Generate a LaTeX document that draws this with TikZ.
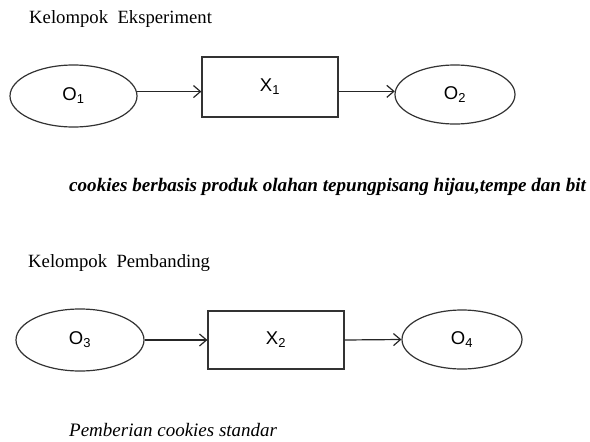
\documentclass[tikz,border=0pt]{standalone}
\usepackage{fontspec}
\setmainfont{Liberation Serif}
\newfontfamily\arialfont{Liberation Sans}
\usetikzlibrary{shapes.geometric}
\usetikzlibrary{arrows.meta}

\tikzset{
  obsnode/.style={ellipse, draw=black!80, line width=1.2pt, inner sep=0pt,
    font=\arialfont\fontsize{18.5}{22}\selectfont},
  treatbox/.style={rectangle, draw=black!80, line width=1.2pt, inner sep=0pt,
    minimum width=136pt, font=\arialfont\fontsize{18.5}{22}\selectfont},
  grouptitle/.style={anchor=west, inner sep=0pt, font=\fontsize{18.7}{22}\selectfont},
  arr/.style={draw=black!85, line width=1.2pt, -{Straight Barb[length=7pt,width=12pt]}}
}

\begin{document}
\begin{tikzpicture}[x=1pt, y=-1pt]
  \useasboundingbox (0,0) rectangle (590,442);

  % Experiment group
  \node[grouptitle] (title1) at (29,19) {Kelompok\ \ Eksperiment};
  \node[obsnode, minimum width=127pt, minimum height=62pt] (O1) at (73.5,96) {O\textsubscript{1}};
  \node[treatbox, minimum height=60pt] (X1) at (270,87) {\raisebox{4pt}{X\textsubscript{1}}};
  \node[obsnode, minimum width=120pt, minimum height=59pt] (O2) at (455,94.5) {O\textsubscript{2}};
  \draw[arr] (O1.4) -- (O1.4 -| X1.west);
  \draw[arr] (X1.east |- O2.177) -- (O2.177);
  \node[grouptitle, font=\fontsize{19.1}{22}\selectfont\bfseries\itshape] (note1) at (69,187)
    {cookies berbasis produk olahan tepungpisang hijau,tempe dan bit};

  % Comparison group
  \node[grouptitle] (title2) at (28,263) {Kelompok\ \ Pembanding};
  \node[obsnode, minimum width=128pt, minimum height=62pt] (O3) at (80,340) {O\textsubscript{3}};
  \node[treatbox, minimum height=58pt] (X2) at (276,340) {\raisebox{2pt}{X\textsubscript{2}}};
  \node[obsnode, minimum width=120pt, minimum height=59pt] (O4) at (462,339.5) {O\textsubscript{4}};
  \draw[arr] (O3.east) -- (X2.west);
  \draw[arr] (X2.east) -- (O4.west);
  \node[grouptitle, font=\fontsize{19}{22}\selectfont\itshape] (note2) at (69,430)
    {Pemberian cookies standar};
\end{tikzpicture}
\end{document}
